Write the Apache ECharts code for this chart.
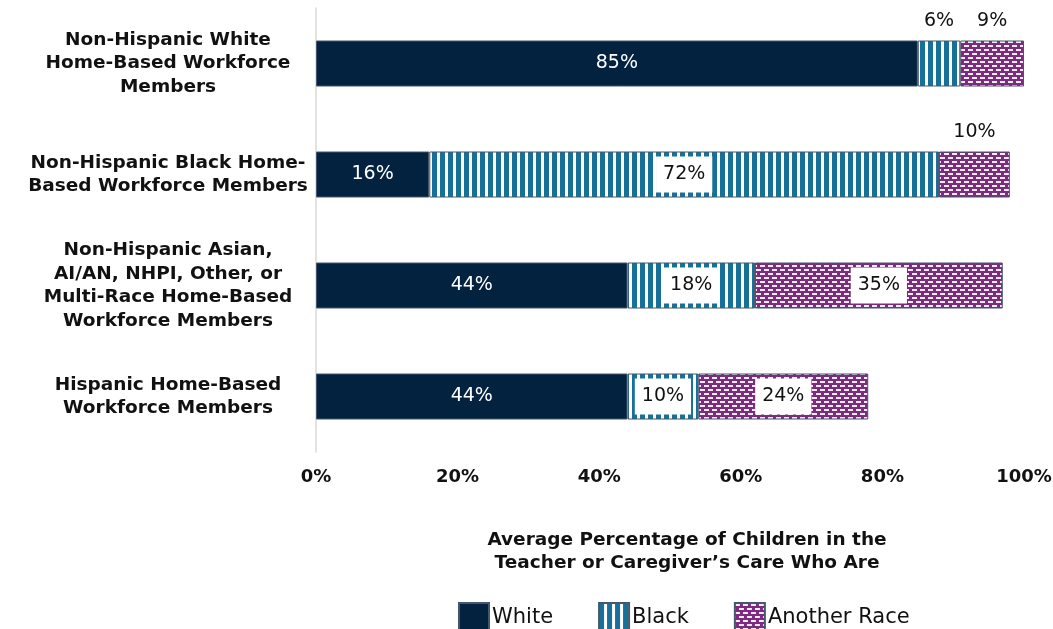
<!DOCTYPE html>
<html>
<head>
<meta charset="utf-8">
<script src="https://cdn.jsdelivr.net/npm/echarts@6/dist/echarts.min.js"></script>
<style>
html,body{margin:0;padding:0;background:#fff;}
#chart{width:1053px;height:629px;}
</style>
</head>
<body>
<div id="chart"></div>
<script>
const categories = [
  'Non-Hispanic White\nHome-Based Workforce\nMembers',
  'Non-Hispanic Black Home-\nBased Workforce Members',
  'Non-Hispanic Asian,\nAI/AN, NHPI, Other, or\nMulti-Race Home-Based\nWorkforce Members',
  'Hispanic Home-Based\nWorkforce Members'
];
const seriesNames = ['White', 'Black', 'Another Race'];
const whiteValues = [85, 16, 44, 44];
const blackValues = [6, 72, 18, 10];
const anotherValues = [9, 10, 35, 24];
const xTicks = [0, 20, 40, 60, 80, 100];
const axisTitle = 'Average Percentage of Children in the\nTeacher or Caregiver\u2019s Care Who Are';
// which bars have their label shown above the segment
const blackOutside = [0];
const anotherOutside = [0, 1];

const FONT = '"DejaVu Sans", "Open Sans", sans-serif';

function stripePattern() {
  const c = document.createElement('canvas');
  c.width = 8; c.height = 8;
  const g = c.getContext('2d');
  g.fillStyle = '#ffffff'; g.fillRect(0, 0, 8, 8);
  g.fillStyle = '#16709a'; g.fillRect(0, 0, 5, 8);
  return c;
}
function brickPattern() {
  const c = document.createElement('canvas');
  c.width = 8; c.height = 8;
  const g = c.getContext('2d');
  g.fillStyle = '#7e2a80'; g.fillRect(0, 0, 8, 8);
  g.fillStyle = '#f4eef5';
  g.fillRect(0, 1, 5, 2);
  g.fillRect(4, 5, 4, 2);
  g.fillRect(0, 5, 1, 2);
  return c;
}

const insideBoxLabel = {
  show: true, position: 'inside', formatter: '{c}%',
  color: '#111', fontFamily: FONT, fontSize: 19, lineHeight: 19,
  backgroundColor: '#fff', padding: [9, 7, 8, 7]
};
const outsideLabel = {
  show: true, position: 'top', distance: 10, formatter: '{c}%',
  color: '#111', fontFamily: FONT, fontSize: 19, lineHeight: 19,
  backgroundColor: 'transparent', padding: 0
};

function buildData(values, outsideIdx) {
  return values.map((v, i) => outsideIdx.indexOf(i) >= 0 ? { value: v, label: outsideLabel } : v);
}

const chart = echarts.init(document.getElementById('chart'), null, { renderer: 'canvas' });
const border = { borderColor: '#45566e', borderWidth: 1 };

chart.setOption({
  animation: false,
  textStyle: { fontFamily: FONT },
  grid: { left: 316, right: 29, top: 8, bottom: 177, containLabel: false, outerBoundsMode: 'none' },
  legend: {
    top: 597, left: 453,
    itemWidth: 30, itemHeight: 29, itemGap: 45,
    icon: 'rect',
    textStyle: { fontFamily: FONT, fontSize: 21, fontWeight: 500, color: '#111', padding: [0, 0, 0, -2] },
    data: seriesNames
  },
  xAxis: {
    type: 'value', min: xTicks[0], max: xTicks[xTicks.length - 1], interval: xTicks[1] - xTicks[0],
    axisLine: { show: false }, axisTick: { show: false }, splitLine: { show: false },
    axisLabel: { formatter: '{value}%', fontFamily: FONT, fontSize: 18, fontWeight: 'bold', color: '#111', margin: 16 },
    name: axisTitle, nameLocation: 'middle', nameGap: 77,
    nameTextStyle: { fontFamily: FONT, fontSize: 18.5, fontWeight: 'bold', color: '#111', lineHeight: 23, verticalAlign: 'top', padding: [0, 0, 0, 34] }
  },
  yAxis: {
    type: 'category', inverse: true, data: categories,
    axisLine: { show: true, lineStyle: { color: '#d9d9d9', width: 1.5 } },
    axisTick: { show: false },
    axisLabel: { align: 'center', margin: 148, fontFamily: FONT, fontSize: 18.5, fontWeight: 'bold', color: '#111', lineHeight: 23.5 }
  },
  series: [
    {
      name: seriesNames[0], type: 'bar', stack: 'total', barWidth: 46,
      itemStyle: Object.assign({ color: '#03223f' }, border),
      label: { show: true, position: 'inside', formatter: '{c}%', color: '#fff', fontFamily: FONT, fontSize: 19 },
      data: whiteValues
    },
    {
      name: seriesNames[1], type: 'bar', stack: 'total', barWidth: 46,
      itemStyle: Object.assign({ color: { image: stripePattern(), repeat: 'repeat' } }, border),
      label: insideBoxLabel,
      data: buildData(blackValues, blackOutside)
    },
    {
      name: seriesNames[2], type: 'bar', stack: 'total', barWidth: 46,
      itemStyle: Object.assign({ color: { image: brickPattern(), repeat: 'repeat' } }, border),
      label: insideBoxLabel,
      data: buildData(anotherValues, anotherOutside)
    }
  ]
});
</script>
</body>
</html>
